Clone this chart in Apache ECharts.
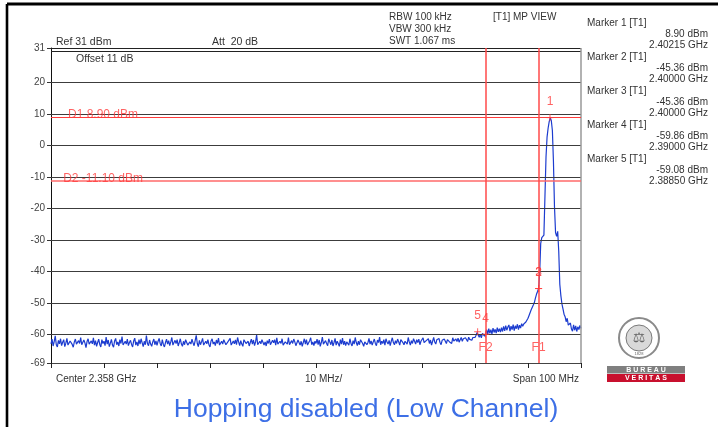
<!DOCTYPE html>
<html><head><meta charset="utf-8">
<script src="https://cdn.jsdelivr.net/npm/echarts@6/dist/echarts.min.js"></script>
<style>html,body{margin:0;padding:0;background:#fff}#c{width:718px;height:427px}</style>
</head><body><div id="c"></div>
<script>
// Sweep: 501 points over 100 MHz span, starting 2.308 GHz (centre 2.358 GHz)
const sweepStartMHz = 2308;
const spanMHz = 100;
const stepMHz = 0.2;
const traceLevels = [
-62.9,-61.4,-63.6,-62.2,-60.4,-63.2,-63.9,-61.8,-62.9,-61.3,-63.5,-62.4,-61.6,-63.8,-62.7,-61.2,-63.3,-63.7,-62.0,-61.5,-63.1,-64.0,-62.3,-61.4,-63.0,
-63.5,-61.9,-62.8,-60.9,-63.2,-63.8,-61.7,-62.6,-64.1,-62.2,-61.3,-63.0,-63.6,-62.0,-62.9,-61.0,-63.3,-61.9,-63.7,-62.5,-61.4,-63.1,-63.9,-61.6,-62.8,
-62.1,-63.5,-60.8,-63.0,-61.7,-63.8,-62.7,-61.5,-63.3,-64.0,-62.0,-61.2,-63.2,-62.3,-63.6,-61.6,-62.8,-60.6,-63.3,-63.7,-62.1,-63.0,-61.4,-63.5,-62.5,
-61.8,-63.1,-63.9,-62.0,-61.1,-63.3,-62.3,-63.6,-61.6,-63.0,-61.3,-62.6,-63.8,-62.1,-63.2,-60.3,-62.8,-63.5,-61.7,-63.0,-63.7,-62.3,-61.4,-63.2,-62.0,
-63.4,-62.1,-61.2,-62.8,-63.6,-61.6,-63.1,-63.9,-62.5,-61.4,-63.0,-61.9,-63.5,-62.3,-60.9,-63.3,-63.8,-61.8,-62.8,-61.6,-63.6,-62.5,-61.3,-63.0,-63.7,
-62.1,-63.2,-61.6,-61.0,-63.3,-63.7,-62.3,-63.0,-61.4,-62.6,-63.5,-61.9,-60.2,-62.8,-63.8,-61.8,-63.2,-62.3,-61.2,-63.3,-63.6,-62.1,-62.9,-61.6,-63.2,
-63.9,-62.0,-61.3,-63.0,-62.3,-63.5,-61.7,-62.8,-61.1,-63.3,-63.7,-62.1,-63.0,-61.6,-61.4,-63.2,-63.6,-62.2,-62.6,-61.2,-63.3,-63.8,-62.0,-62.9,-61.7,
-63.2,-60.9,-62.3,-63.5,-61.9,-63.0,-63.7,-61.6,-61.3,-62.8,-63.3,-62.1,-63.6,-62.5,-61.4,-63.0,-61.7,-63.5,-62.3,-60.1,-63.2,-63.7,-62.1,-62.9,-61.6,
-61.2,-63.3,-62.3,-63.6,-61.9,-62.8,-61.4,-63.2,-63.8,-61.8,-62.6,-61.6,-63.3,-61.0,-63.0,-63.5,-62.1,-62.8,-61.3,-63.3,-63.7,-62.3,-61.7,-63.0,-60.9,
-63.2,-63.6,-61.9,-62.8,-61.4,-62.3,-63.5,-63.0,-61.7,-61.2,-63.3,-62.1,-63.7,-62.5,-61.3,-63.0,-61.6,-63.3,-63.6,-61.9,-61.0,-63.2,-62.3,-63.5,-62.1,
-62.8,-61.4,-63.2,-61.7,-63.7,-62.5,-60.8,-63.0,-63.3,-61.9,-62.8,-63.5,-61.3,-62.3,-63.2,-61.7,-63.6,-62.5,-61.2,-63.3,-62.1,-62.8,-63.7,-61.6,-63.0,
-61.1,-63.2,-62.1,-63.5,-62.3,-61.7,-63.3,-61.3,-62.8,-63.6,-61.9,-63.0,-60.9,-62.5,-63.5,-62.1,-63.2,-61.6,-61.4,-62.8,-63.7,-62.3,-61.7,-63.2,-62.5,
-61.2,-63.0,-62.0,-63.3,-62.3,-61.4,-62.8,-63.5,-61.7,-62.5,-60.8,-63.2,-62.1,-62.8,-61.6,-63.3,-61.3,-62.3,-63.0,-61.8,-63.5,-62.1,-61.0,-62.5,-63.2,
-61.9,-62.8,-61.4,-62.3,-63.3,-61.6,-61.2,-62.5,-63.2,-62.1,-61.7,-63.0,-60.9,-62.3,-63.3,-61.9,-62.8,-61.3,-62.1,-63.0,-61.6,-62.5,-61.4,-63.2,-62.1,
-61.6,-61.0,-62.5,-63.0,-61.9,-62.3,-61.3,-62.8,-61.7,-63.3,-62.1,-60.9,-62.3,-63.0,-61.6,-62.0,-61.2,-62.5,-63.2,-61.8,-62.3,-61.4,-62.1,-62.8,-61.6,
-61.3,-62.3,-61.8,-62.8,-61.0,-62.0,-62.5,-61.4,-62.2,-61.1,-62.4,-61.6,-60.9,-62.1,-61.3,-61.9,-61.0,-61.6,-62.2,-60.8,-61.5,-61.2,-61.8,-60.9,-61.4,
-60.9,-60.2,-59.3,-59.1,-60.8,-59.9,-61.0,-59.6,-59.2,-60.5,-59.86,-58.4,-59.9,-58.1,-59.6,-58.4,-59.8,-57.9,-59.3,-58.3,-59.5,-57.8,-59.1,-58.1,-59.2,
-57.8,-59.0,-57.4,-58.8,-57.1,-58.6,-57.6,-56.9,-58.9,-57.3,-58.4,-56.8,-58.7,-57.2,-58.1,-56.7,-58.4,-57.0,-57.9,-56.5,-57.3,-56.6,-57.2,-56.0,-55.6,
-54.8,-53.9,-53.4,-52.1,-51.5,-50.6,-49.8,-48.4,-47.2,-46.3,-45.36,-40.5,-31.0,-29.2,-29.8,-28.4,-16.0,-3.5,2.8,5.6,7.6,8.9,7.9,4.8,-5.0,
-19.5,-27.6,-28.8,-27.2,-33.5,-44.0,-47.6,-50.2,-51.8,-53.5,-54.3,-55.9,-54.8,-57.0,-57.6,-56.3,-58.2,-58.9,-56.9,-58.6,-57.2,-59.0,-57.5,-58.4,-57.1,
-58.0
];
const yTickValues = [31, 20, 10, 0, -10, -20, -30, -40, -50, -60, -69];
const yGridValues = [20, 10, 0, -10, -20, -30, -40, -50, -60];
const markerNames = ['1', '2', '3', '4', '5'];
const markerMHz = [94.15, 92.0, 92.0, 82.0, 80.5];       // offset from sweep start
const markerLevels = [8.90, -45.36, -45.36, -59.86, -59.08];
const displayLineNames = ['D1', 'D2'];
const displayLineLevels = [8.90, -11.10];
const freqLineNames = ['F1', 'F2'];
const freqLineMHz = [92, 82];
const headerLeft = ['Ref 31 dBm', 'Att  20 dB', 'Offset 11 dB'];
const headerMid = ['RBW 100 kHz', 'VBW 300 kHz', 'SWT 1.067 ms'];
const headerView = '[T1] MP VIEW';
const footerTexts = ['Center 2.358 GHz', '10 MHz/', 'Span 100 MHz'];
const titleText = 'Hopping disabled (Low Channel)';

const FONT = '"Liberation Sans", Arial, sans-serif';
const TXT = '#333';
const RED = '#ff3b3b';

const traceData = traceLevels.map((v, i) => [i * stepMHz, v]);
const markerData = markerMHz.map((m, i) => ({ value: [m, markerLevels[i]], name: markerNames[i] }));

const graphics = [
  { type: 'line', shape: { x1: 7, y1: 4, x2: 718, y2: 4 }, style: { stroke: '#000', lineWidth: 3 } },
  { type: 'line', shape: { x1: 7, y1: 4, x2: 7, y2: 427 }, style: { stroke: '#000', lineWidth: 2.6 } },
  { type: 'text', x: 56, y: 37, style: { text: headerLeft[0], font: '10.5px ' + FONT, fill: TXT } },
  { type: 'text', x: 212, y: 37, style: { text: headerLeft[1], font: '10.5px ' + FONT, fill: TXT } },
  { type: 'text', x: 76, y: 54, style: { text: headerLeft[2], font: '10.5px ' + FONT, fill: TXT } },
  { type: 'text', x: 389, y: 12, style: { text: headerMid[0], font: '10px ' + FONT, fill: TXT } },
  { type: 'text', x: 389, y: 24, style: { text: headerMid[1], font: '10px ' + FONT, fill: TXT } },
  { type: 'text', x: 389, y: 36, style: { text: headerMid[2], font: '10px ' + FONT, fill: TXT } },
  { type: 'text', x: 493, y: 12, style: { text: headerView, font: '10px ' + FONT, fill: TXT } },
  { type: 'text', x: 56, y: 374, style: { text: footerTexts[0], font: '10px ' + FONT, fill: TXT } },
  { type: 'text', x: 305, y: 374, style: { text: footerTexts[1], font: '10px ' + FONT, fill: TXT } },
  { type: 'text', x: 579, y: 374, style: { text: footerTexts[2], font: '10px ' + FONT, fill: TXT, align: 'right' } },
  { type: 'text', x: 366, y: 410, style: { text: titleText, font: '26.5px ' + FONT, fill: '#3d6fe6', align: 'center', verticalAlign: 'middle' } }
];
markerNames.forEach((n, i) => {
  const top = 18 + i * 34;
  const ghz = ((sweepStartMHz + markerMHz[i]) / 1000).toFixed(5);
  graphics.push({ type: 'text', x: 587, y: top, style: { text: 'Marker ' + n + ' [T1]', font: '10px ' + FONT, fill: TXT } });
  graphics.push({ type: 'text', x: 708, y: top + 11.5, style: { text: markerLevels[i].toFixed(2) + ' dBm', font: '10px ' + FONT, fill: TXT, align: 'right' } });
  graphics.push({ type: 'text', x: 708, y: top + 22.5, style: { text: ghz + ' GHz', font: '10px ' + FONT, fill: TXT, align: 'right' } });
});
// Bureau Veritas logo
graphics.push(
  { type: 'circle', shape: { cx: 639, cy: 338, r: 20 }, style: { fill: '#fff', stroke: '#8a8a8a', lineWidth: 2 } },
  { type: 'circle', shape: { cx: 639, cy: 338, r: 13 }, style: { fill: '#d9d9d9', stroke: '#7a7a7a', lineWidth: 1 } },
  { type: 'text', x: 639, y: 338, style: { text: '⚖', font: '14px "DejaVu Sans"', fill: '#666', align: 'center', verticalAlign: 'middle' } },
  { type: 'text', x: 639, y: 354, style: { text: '1828', font: '4px ' + FONT, fill: '#666', align: 'center', verticalAlign: 'middle' } },
  { type: 'rect', shape: { x: 607, y: 366, width: 78, height: 7.5 }, style: { fill: '#7f7f7f' } },
  { type: 'rect', shape: { x: 607, y: 374, width: 78, height: 8 }, style: { fill: '#c8102e' } },
  { type: 'text', x: 646, y: 370, style: { text: 'B U R E A U', font: 'bold 7px ' + FONT, fill: '#fff', align: 'center', verticalAlign: 'middle' } },
  { type: 'text', x: 646, y: 378.2, style: { text: 'V E R I T A S', font: 'bold 7px ' + FONT, fill: '#fff', align: 'center', verticalAlign: 'middle' } }
);

const chart = echarts.init(document.getElementById('c'), null, { renderer: 'canvas' });
chart.setOption({
  animation: false,
  backgroundColor: '#fff',
  grid: { left: 51, right: 137, top: 48, bottom: 64 },
  xAxis: {
    type: 'value', min: 0, max: spanMHz, interval: 10,
    axisLine: { onZero: false, lineStyle: { color: '#444', width: 1 } },
    axisTick: { show: true, inside: false, length: 5, lineStyle: { color: '#222' } },
    axisLabel: { show: false },
    splitLine: { show: false }
  },
  yAxis: {
    type: 'value', min: -69, max: 31,
    axisLine: { show: true, onZero: false, lineStyle: { color: '#111', width: 1 } },
    axisTick: { show: true, length: 4, customValues: yTickValues, lineStyle: { color: '#333' } },
    axisLabel: { customValues: yTickValues, fontSize: 10, color: '#444', fontFamily: FONT, margin: 6 },
    splitLine: { show: false }
  },
  graphic: graphics,
  series: [
    {
      type: 'line', silent: true, data: [], z: 1,
      markLine: {
        silent: true, symbol: 'none', animation: false,
        label: { show: false },
        data: yGridValues.map(v => ({ yAxis: v, lineStyle: { color: '#3c3c3c', width: 1, type: 'solid' } }))
          .concat([
            { yAxis: 31, lineStyle: { color: '#222', width: 1, type: 'solid' } },
            { yAxis: 30, lineStyle: { color: '#222', width: 1, type: 'solid' } },
            { xAxis: spanMHz, lineStyle: { color: '#999', width: 1.5, type: 'solid' } }
          ])
      }
    },
    {
      type: 'line', name: 'trace', data: traceData, showSymbol: false, z: 3,
      lineStyle: { color: '#1c3ccf', width: 1.2 }, itemStyle: { color: '#1c3ccf' },
      markLine: {
        silent: true, symbol: 'none', animation: false,
        label: { show: false },
        data: [
          { yAxis: displayLineLevels[0], lineStyle: { color: RED, width: 1.1, type: 'solid' } },
          { yAxis: displayLineLevels[1], lineStyle: { color: '#ff6a6a', width: 1.6, type: 'solid' } }
        ].concat(freqLineMHz.map(m => ({ xAxis: m, lineStyle: { color: '#ff4a4a', width: 1.5, type: 'solid' } })))
      }
    },
    {
      type: 'scatter', name: 'markers', data: markerData, z: 5,
      symbol: 'path://M0,-5L0,5M-5,0L5,0', symbolSize: 7,
      itemStyle: { color: 'none', borderColor: RED, borderWidth: 1 },
      label: { show: true, position: 'top', distance: 4, formatter: p => p.name, color: RED, fontSize: 12, fontFamily: FONT }
    },
    {
      type: 'scatter', name: 'lineLabels', symbolSize: 0, z: 6,
      data: [
        { value: [3.2, displayLineLevels[0]], name: displayLineNames[0] + ' ' + displayLineLevels[0].toFixed(2) + ' dBm', label: { position: 'right', offset: [0, -3] } },
        { value: [2.3, displayLineLevels[1]], name: displayLineNames[1] + ' ' + displayLineLevels[1].toFixed(2) + ' dBm', label: { position: 'right', offset: [0, -2] } },
        { value: [freqLineMHz[0], -64.1], name: freqLineNames[0], label: { position: 'inside' } },
        { value: [freqLineMHz[1], -64.1], name: freqLineNames[1], label: { position: 'inside' } }
      ],
      label: { show: true, formatter: p => p.name, color: RED, fontSize: 12, fontFamily: FONT, distance: 0 }
    }
  ]
});
</script></body></html>
